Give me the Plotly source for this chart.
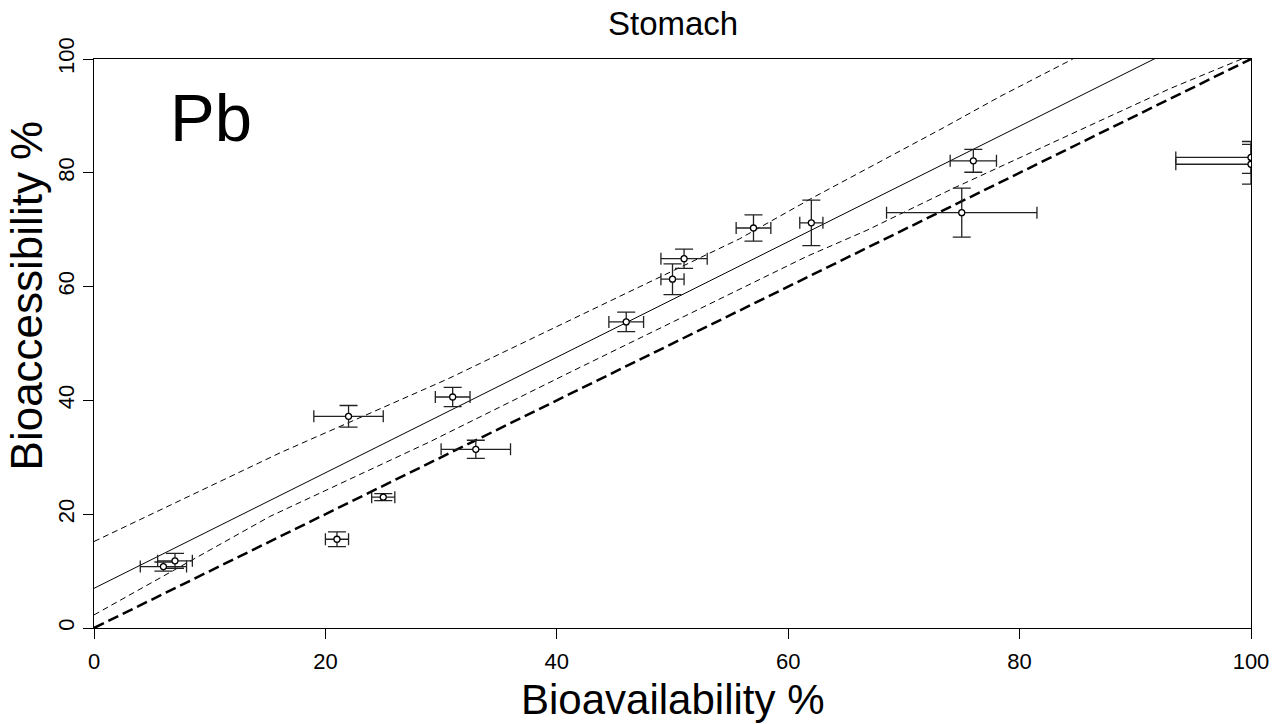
import plotly.graph_objects as go

# ---- data ----
bioavail = [6, 7, 21, 22, 25, 31, 33, 46, 50, 51, 57, 62, 75, 76, 100, 100]
bioavail_err = [2.0, 1.5, 1.0, 3.0, 1.0, 1.5, 3.0, 1.5, 1.0, 2.0, 1.5, 1.0, 6.5, 2.0, 6.5, 6.5]
bioacc = [10.8, 11.8, 15.6, 37.2, 23.0, 40.6, 31.4, 53.8, 61.3, 64.9, 70.3, 71.2, 73.0, 82.1, 82.7, 81.5]
bioacc_err = [0.8, 1.3, 1.3, 1.9, 0.6, 1.7, 1.6, 1.7, 2.7, 1.7, 2.3, 4.0, 4.3, 2.0, 2.8, 3.5]

fit_x = [0, 100]
fit_y = [6.97, 108.5]

upper_x = [0, 16.1, 30.5, 55.8, 62.1, 73.4, 78.3, 84.6]
upper_y = [15.2, 30.8, 43.7, 68.4, 75.6, 87.9, 93.4, 100.0]

lower_x = [0, 15.2, 29.0, 41.4, 61.6, 66.8, 74.3, 86.9, 93.0, 99.2]
lower_y = [2.3, 19.6, 32.7, 45.2, 65.3, 69.9, 77.3, 89.0, 94.8, 100.0]

one_x = [0, 100]
one_y = [0, 100]

tick_vals = [0, 20, 40, 60, 80, 100]
tick_text = ["0", "20", "40", "60", "80", "100"]

FONT = "Liberation Sans, Arial, sans-serif"

fig = go.Figure()

fig.add_trace(go.Scatter(x=one_x, y=one_y, mode="lines",
                         line=dict(color="black", width=2.5, dash="11px,5px"),
                         showlegend=False, hoverinfo="skip"))
fig.add_trace(go.Scatter(x=upper_x, y=upper_y, mode="lines",
                         line=dict(color="black", width=1, dash="6px,4px"),
                         showlegend=False, hoverinfo="skip"))
fig.add_trace(go.Scatter(x=lower_x, y=lower_y, mode="lines",
                         line=dict(color="black", width=1, dash="6px,4px"),
                         showlegend=False, hoverinfo="skip"))
fig.add_trace(go.Scatter(x=fit_x, y=fit_y, mode="lines",
                         line=dict(color="black", width=1),
                         showlegend=False, hoverinfo="skip"))

fig.add_trace(go.Scatter(
    x=bioavail, y=bioacc, mode="markers",
    marker=dict(symbol="circle", size=6, color="white",
                line=dict(color="black", width=1.3)),
    error_x=dict(type="data", array=bioavail_err, visible=True,
                 color="#222222", thickness=1.3, width=6),
    error_y=dict(type="data", array=bioacc_err, visible=True,
                 color="#222222", thickness=1.3, width=9),
    showlegend=False, cliponaxis=True))

axis_common = dict(
    range=[0, 100], tickvals=tick_vals, ticktext=tick_text,
    showgrid=False, zeroline=False, showline=True, linecolor="black",
    linewidth=1, mirror=True, ticks="outside", ticklen=10, tickwidth=1,
    tickcolor="black", tickfont=dict(family=FONT, size=22, color="black"),
)

fig.update_xaxes(**axis_common, ticklabelstandoff=4)
fig.update_yaxes(**axis_common, tickangle=-90)

fig.update_layout(
    width=1284, height=724,
    margin=dict(l=94, r=33, t=59, b=96),
    plot_bgcolor="white", paper_bgcolor="white",
    font=dict(family=FONT, color="black"),
    annotations=[
        dict(text="Stomach", xref="paper", yref="paper", x=0.5, y=1.062,
             xanchor="center", yanchor="middle", showarrow=False,
             font=dict(family=FONT, size=33, color="black")),
        dict(text="Bioavailability %", xref="paper", yref="paper", x=0.5, y=-0.125,
             xanchor="center", yanchor="middle", showarrow=False,
             font=dict(family=FONT, size=42, color="black")),
        dict(text="Bioaccessibility %", xref="paper", yref="paper", x=-0.0585, y=0.585,
             xanchor="center", yanchor="middle", textangle=-90, showarrow=False,
             font=dict(family=FONT, size=44, color="black")),
        dict(text="Pb", xref="x", yref="y", x=10.1, y=89.7,
             xanchor="center", yanchor="middle", showarrow=False,
             font=dict(family=FONT, size=67, color="black")),
    ],
)

fig.write_html("out.html")
